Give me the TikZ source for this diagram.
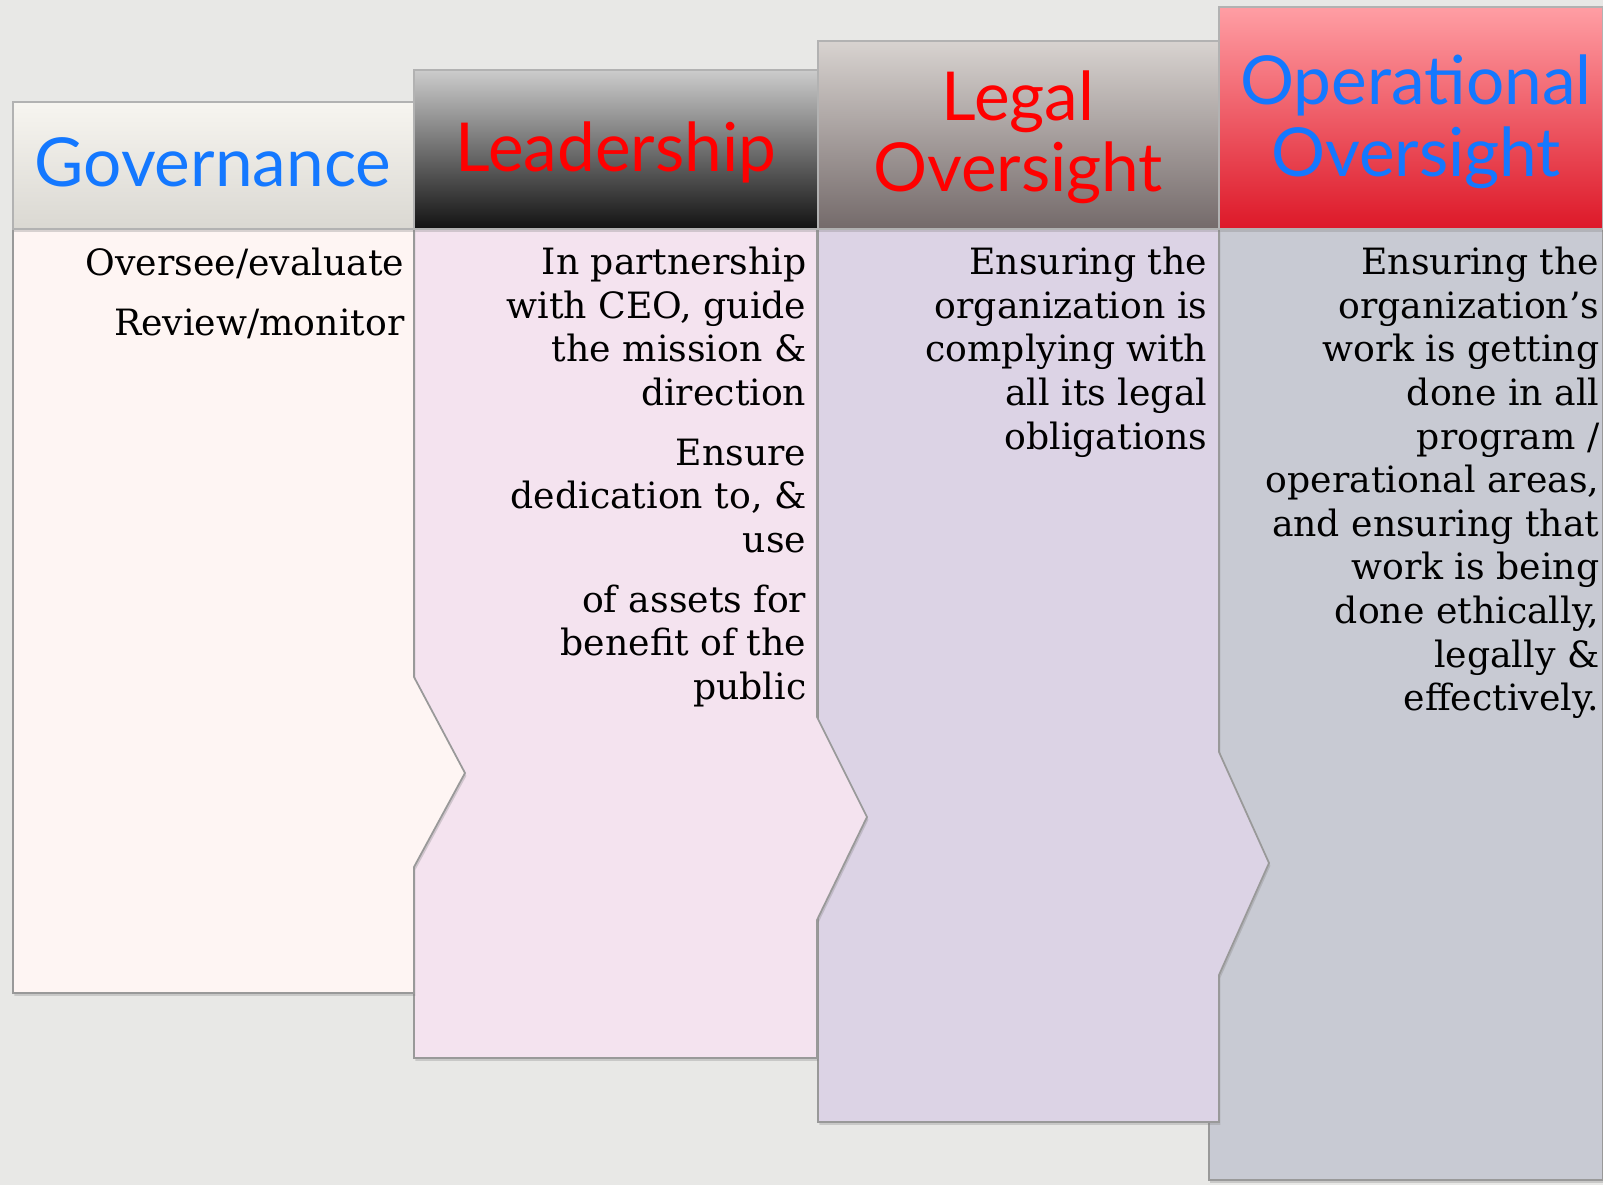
\documentclass[tikz,border=0pt]{standalone}
\usepackage{fontspec}
\setmainfont{DejaVu Serif}
\newfontfamily\headfont{Lato}
\usetikzlibrary{shadows}

\definecolor{bgcol}{HTML}{E8E8E6}
\definecolor{govtop}{HTML}{F7F5F0}
\definecolor{govbot}{HTML}{DAD8D2}
\definecolor{leadtop}{HTML}{CCCCCC}
\definecolor{leadbot}{HTML}{121212}
\definecolor{legaltop}{HTML}{D8D3D0}
\definecolor{legalbot}{HTML}{746A6A}
\definecolor{optop}{HTML}{FF9EA4}
\definecolor{opbot}{HTML}{DD1828}
\definecolor{govbody}{HTML}{FEF5F3}
\definecolor{leadbody}{HTML}{F4E3EF}
\definecolor{legalbody}{HTML}{DCD3E5}
\definecolor{opbody}{HTML}{C8CAD3}
\definecolor{headblue}{HTML}{1478FF}
\definecolor{headred}{HTML}{FF0000}

\tikzset{
  head/.style={draw=black!30, line width=0.5pt,
    drop shadow={opacity=0.3, shadow xshift=0.4pt, shadow yshift=-0.8pt}},
  body/.style={draw=black!40, line width=0.5pt,
    drop shadow={opacity=0.3, shadow xshift=0.4pt, shadow yshift=-0.8pt}},
  headtext/.style={font=\headfont\fontsize{19.2}{20.4}\selectfont, align=center, inner sep=0pt, anchor=base},
  bodytext/.style={font=\fontsize{10.3}{12.4}\selectfont, align=right, inner sep=0pt, anchor=north east,
    execute at begin node=\strut},
}

\begin{document}
\begin{tikzpicture}[x=0.01cm, y=-0.01cm]
  \fill[bgcol] (0,0) rectangle (1603,1185);
  \useasboundingbox (0,0) rectangle (1603,1185);

  % operational oversight
  \path[body, fill=opbody] (1209,229) rectangle (1603,1180);
  \path[head, top color=optop, bottom color=opbot] (1219,7) rectangle (1603,229);
  \node[headtext, text=headblue] (ophead) at (1416,176) {Operational\\Oversight};
  \node[bodytext] (optext) at (1600,246.5) {Ensuring the\\organization's\\work is getting\\done in all\\program /\\operational areas,\\and ensuring that\\work is being\\done ethically,\\legally \&\\effectively.};

  % legal oversight
  \path[body, fill=legalbody] (818,229) -- (1219,229) -- (1219,752) -- (1269,863)
    -- (1219,975) -- (1219,1122) -- (818,1122) -- cycle;
  \path[head, top color=legaltop, bottom color=legalbot] (818,41) rectangle (1219,229);
  \node[headtext, text=headred] (legalhead) at (1018,192) {Legal\\Oversight};
  \node[bodytext] (legaltext) at (1208,246.5) {Ensuring the\\organization is\\complying with\\all its legal\\obligations};

  % leadership
  \path[body, fill=leadbody] (414,229) -- (817,229) -- (817,717) -- (867,817)
    -- (817,920) -- (817,1058) -- (414,1058) -- cycle;
  \path[head, top color=leadtop, bottom color=leadbot] (414,70) rectangle (818,229);
  \node[headtext, text=headred] (leadhead) at (616,172) {Leadership};
  \node[bodytext] (leadtext) at (807,246.5) {In partnership\\with CEO, guide\\the mission \&\\direction\\[4.6pt]Ensure\\dedication to, \&\\use\\[4.6pt]of assets for\\benefit of the\\public};

  % governance
  \path[body, fill=govbody] (13,229) -- (414,229) -- (414,677) -- (465,773)
    -- (414,867) -- (414,993) -- (13,993) -- cycle;
  \path[head, top color=govtop, bottom color=govbot] (13,102) rectangle (414,229);
  \node[headtext, text=headblue] (govhead) at (213,187) {Governance};
  \node[bodytext] (govtext) at (405,247.5) {Oversee/evaluate\\[4.6pt]Review/monitor};
\end{tikzpicture}
\end{document}
